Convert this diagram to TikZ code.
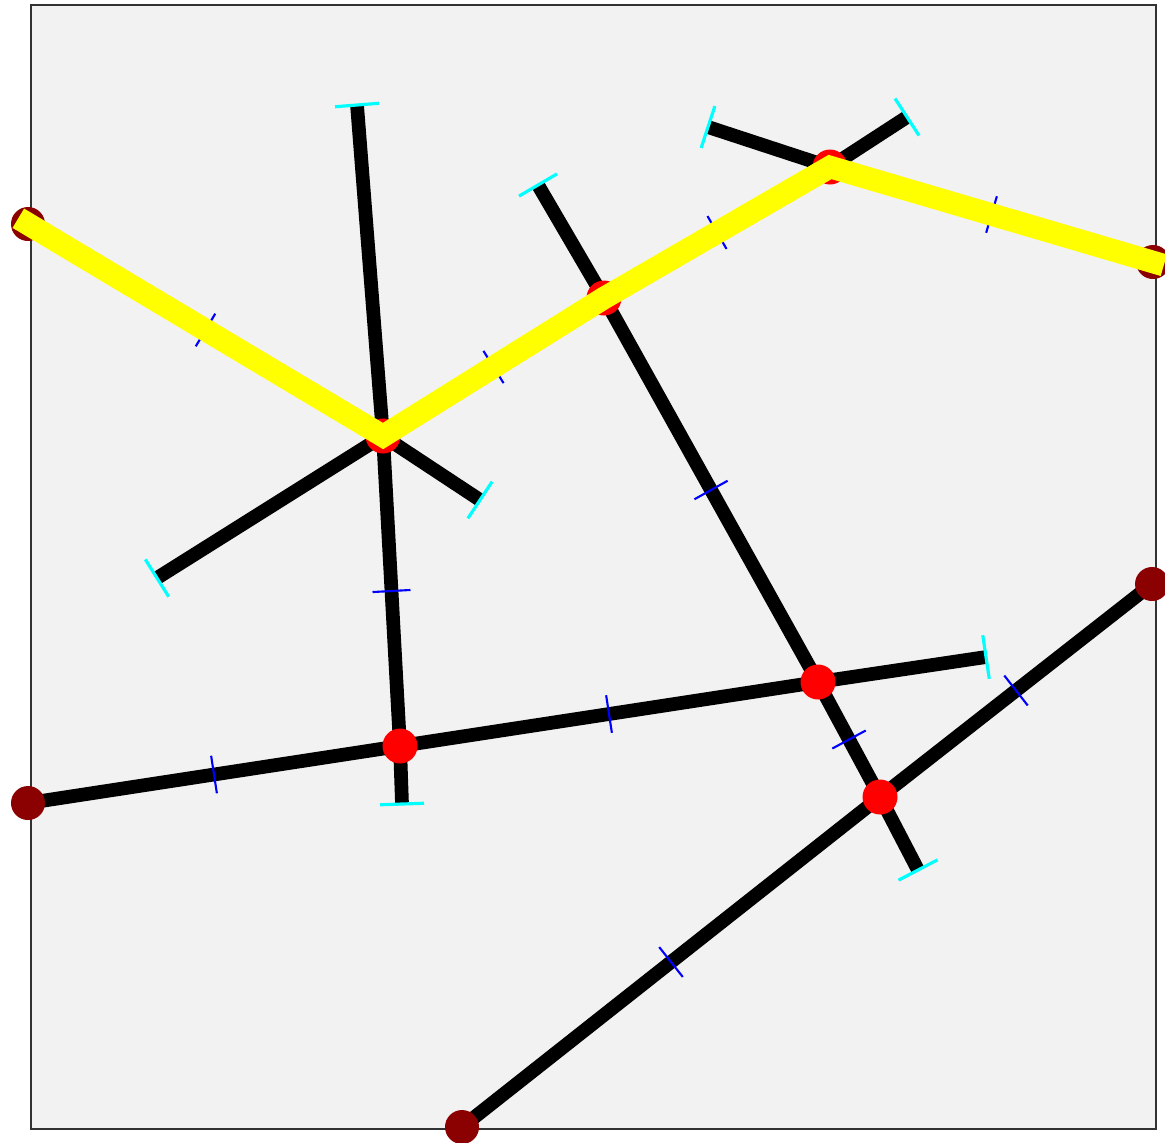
\documentclass[tikz,border=0pt]{standalone}
\usepackage{tikz}
\usetikzlibrary{calc}

\definecolor{bgpanel}{RGB}{242,242,242}
\definecolor{framegray}{RGB}{50,50,50}
\definecolor{bnddot}{RGB}{139,0,0}
\definecolor{routeyellow}{RGB}{255,255,0}
\definecolor{tipcyan}{RGB}{0,255,255}

\tikzset{
  seg/.style={black, line width=3.9pt},
  route/.style={routeyellow, line width=6.4pt, line cap=rect},
  midtick/.style={blue, line width=0.6pt},
  endtick/.style={tipcyan, line width=0.9pt},
  bnd/.style={fill=bnddot},
  hit/.style={fill=red}
}

\begin{document}
\begin{tikzpicture}[x=0.01cm, y=-0.01cm]
  \useasboundingbox (0,0) rectangle (1165,1142);
  % --- Panel ---
  \draw[framegray, fill=bgpanel, line width=0.6pt] (31,5) rectangle (1156,1129);
  % --- Points ---
  \coordinate (bL) at (28,224);
  \coordinate (bR) at (1153,262);
  \coordinate (bR2) at (1152,584);
  \coordinate (bL2) at (28,803);
  \coordinate (bB) at (462,1127);
  \coordinate (x1) at (383,436);
  \coordinate (x2) at (604,298);
  \coordinate (x3) at (830,167);
  \coordinate (x4) at (400,746);
  \coordinate (x5) at (818,682);
  \coordinate (x6) at (880,797);
  \coordinate (e1) at (357,105);
  \coordinate (e2) at (708,127);
  \coordinate (e3) at (907,117);
  \coordinate (e4) at (538,185);
  \coordinate (e5) at (480,500);
  \coordinate (e6) at (157,578);
  \coordinate (e7) at (402,804);
  \coordinate (e8) at (986,657);
  \coordinate (e9) at (918,870);
  % --- Segments ---
  \draw[seg] (e1) -- (x1) -- (x4) -- (e7);
  \draw[seg] (bL) -- (x1) -- (e5);
  \draw[seg] (e6) -- (x1) -- (x2) -- (x3) -- (e3);
  \draw[seg] (e2) -- (x3) -- (bR);
  \draw[seg] (e4) -- (x2) -- (x5) -- (x6) -- (e9);
  \draw[seg] (bL2) -- (x4) -- (x5) -- (e8);
  \draw[seg] (bB) -- (x6) -- (bR2);
  % --- Mid ticks ---
  \foreach \a/\b in {bL/x1, x1/x2, x2/x3, x3/bR, x1/x4, bL2/x4, x4/x5,
                     x2/x5, x5/x6, x6/bR2, bB/x6} {
    \draw[midtick] ($(\a)!0.5!(\b)!0.19cm!90:(\b)$) -- ($(\a)!0.5!(\b)!0.19cm!-90:(\b)$);
  }
  % --- End ticks ---
  \foreach \e/\o in {e1/x1, e2/x3, e3/x3, e4/x2, e5/x1, e6/x1, e7/x4, e8/x5, e9/x6} {
    \draw[endtick] ($(\e)!0.22cm!90:(\o)$) -- ($(\e)!0.22cm!-90:(\o)$);
  }
  % --- Dots ---
  \foreach \p in {bL, bR, bR2, bL2, bB} {
    \fill[bnd] (\p) circle[radius=17];
  }
  \foreach \p in {x1, x2, x3, x4, x5, x6} {
    \fill[hit] (\p) circle[radius=17.5];
  }
  % --- Route ---
  \draw[route] (bL) -- (x1) -- (x2) -- (x3) -- (bR);
\end{tikzpicture}
\end{document}
